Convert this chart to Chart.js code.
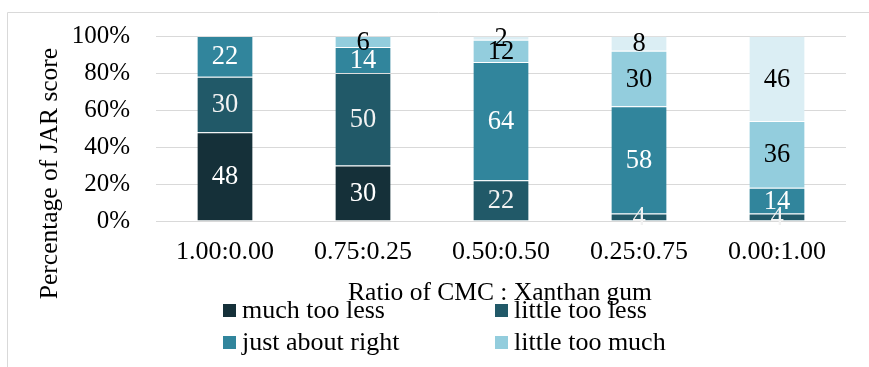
<!DOCTYPE html>
<html>
<head>
<meta charset="utf-8">
<script src="https://cdn.jsdelivr.net/npm/chart.js@4.4.1/dist/chart.umd.min.js"></script>
<style>
  html, body { margin: 0; padding: 0; background: #fff; }
  #wrap { width: 869px; height: 367px; position: relative; }
</style>
</head>
<body>
<div id="wrap"><canvas id="chart"></canvas></div>
<script>
const categories = ['1.00:0.00', '0.75:0.25', '0.50:0.50', '0.25:0.75', '0.00:1.00'];
const seriesNames = ['much too less', 'little too less', 'just about right', 'little too much', 'much too much'];
const muchTooLess = [48, 30, 0, 0, 0];
const littleTooLess = [30, 50, 22, 4, 4];
const justAboutRight = [22, 14, 64, 58, 14];
const littleTooMuch = [0, 6, 12, 30, 36];
const muchTooMuch = [0, 0, 2, 8, 46];
const yTicks = [0, 20, 40, 60, 80, 100];

const colors = ['#153039', '#215968', '#31859c', '#93cddd', '#dbeef4'];
const labelColors = ['#ffffff', '#f2f2f2', '#ffffff', '#000000', '#000000'];
const FONT = "'Liberation Serif', 'Times New Roman', serif";

const allSeries = [muchTooLess, littleTooLess, justAboutRight, littleTooMuch, muchTooMuch];

// frame + axis titles + legend drawn by hand, Excel style
const decor = {
  id: 'decor',
  beforeDraw(chart) {
    const ctx = chart.ctx;
    ctx.save();
    ctx.strokeStyle = '#d9d9d9';
    ctx.lineWidth = 1;
    ctx.beginPath();
    ctx.moveTo(7.5, 400);
    ctx.lineTo(7.5, 12.5);
    ctx.lineTo(900, 12.5);
    ctx.stroke();
    ctx.restore();
  },
  afterDraw(chart) {
    const ctx = chart.ctx;
    ctx.save();
    ctx.fillStyle = '#000';
    ctx.textBaseline = 'alphabetic';
    // y title
    ctx.font = '25.5px ' + FONT;
    ctx.textAlign = 'center';
    ctx.save();
    ctx.translate(56.5, 173.5);
    ctx.rotate(-Math.PI / 2);
    ctx.fillText('Percentage of JAR score', 0, 0);
    ctx.restore();
    // x title
    ctx.fillText('Ratio of CMC : Xanthan gum', 500, 300);
    // legend, 2 columns, only first 4 series shown
    ctx.font = '26px ' + FONT;
    const cols = [223, 495];
    const rows = [318, 350];
    ctx.textAlign = 'left';
    for (let i = 0; i < 4; i++) {
      const x = cols[i % 2];
      const y = rows[Math.floor(i / 2)];
      ctx.fillStyle = colors[i];
      ctx.fillRect(x, y - 14, 13, 13);
      ctx.fillStyle = '#000';
      ctx.fillText(seriesNames[i], x + 19, y);
    }
    ctx.restore();
  }
};

const segLabels = {
  id: 'segLabels',
  afterDatasetsDraw(chart) {
    const ctx = chart.ctx;
    ctx.save();
    ctx.font = '26.5px ' + FONT;
    ctx.textAlign = 'center';
    ctx.textBaseline = 'middle';
    chart.data.datasets.forEach((ds, di) => {
      const meta = chart.getDatasetMeta(di);
      meta.data.forEach((bar, i) => {
        const v = ds.data[i];
        if (!v) return;
        ctx.fillStyle = labelColors[di];
        ctx.fillText(String(v), bar.x, (bar.y + bar.base) / 2 + 1);
      });
    });
    ctx.restore();
  }
};

new Chart(document.getElementById('chart'), {
  type: 'bar',
  data: {
    labels: categories,
    datasets: allSeries.map((d, i) => ({
      label: seriesNames[i],
      data: d,
      backgroundColor: colors[i],
      borderColor: 'rgba(255,255,255,0.15)',
      borderWidth: { top: 1, left: 0, right: 0, bottom: 0 },
      borderSkipped: 'start',
      categoryPercentage: 1,
      barPercentage: 0.4
    }))
  },
  options: {
    responsive: true,
    maintainAspectRatio: false,
    animation: false,
    layout: { padding: { top: 36, right: 23, left: 0, bottom: 0 } },
    plugins: {
      legend: { display: false },
      tooltip: { enabled: false }
    },
    scales: {
      x: {
        stacked: true,
        grid: { display: false, drawTicks: false },
        border: { display: false },
        ticks: { color: '#000', font: { family: FONT, size: 26 }, padding: 16, maxRotation: 0 },
        afterFit(scale) { scale.height = 146; }
      },
      y: {
        stacked: true,
        min: 0,
        max: 100,
        afterBuildTicks(scale) { scale.ticks = yTicks.map(v => ({ value: v })); },
        grid: { color: '#d9d9d9', lineWidth: 1, drawTicks: false },
        border: { display: false },
        ticks: {
          color: '#000',
          font: { family: FONT, size: 25 },
          padding: 26,
          callback: v => v + '%'
        },
        afterFit(scale) {
          scale.width = 156;
          scale.paddingTop = 0;
          scale.paddingBottom = 0;
        }
      }
    }
  },
  plugins: [decor, segLabels]
});
</script>
</body>
</html>
